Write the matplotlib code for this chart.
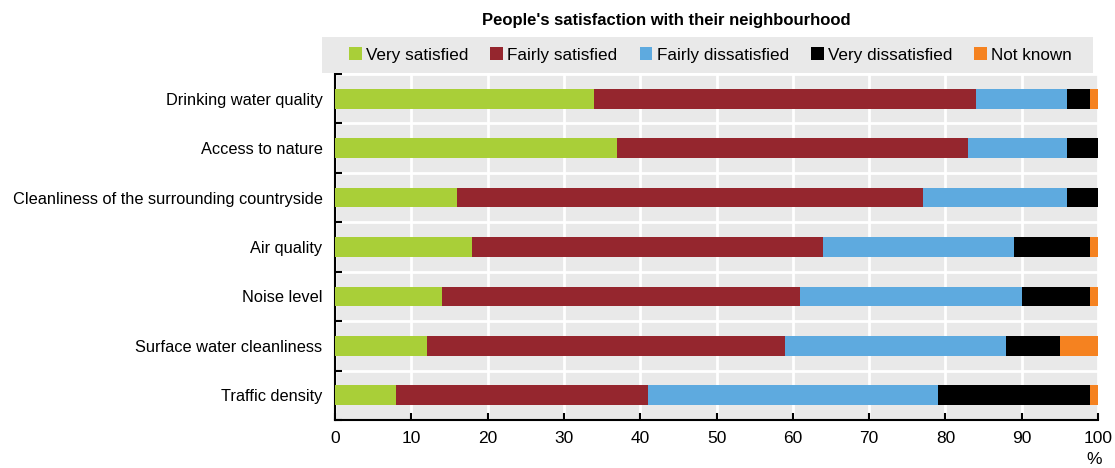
import numpy as np
from matplotlib import pyplot as plt
from matplotlib.patches import Patch, Rectangle

plt.rcParams['font.family'] = ['Liberation Sans', 'DejaVu Sans']

categories = ['Drinking water quality', 'Access to nature',
              'Cleanliness of the surrounding countryside', 'Air quality',
              'Noise level', 'Surface water cleanliness', 'Traffic density']
series = ['Very satisfied', 'Fairly satisfied', 'Fairly dissatisfied',
          'Very dissatisfied', 'Not known']
very_satisfied = [34, 37, 16, 18, 14, 12, 8]
fairly_satisfied = [50, 46, 61, 46, 47, 47, 33]
fairly_dissatisfied = [12, 13, 19, 25, 29, 29, 38]
very_dissatisfied = [3, 4, 4, 10, 9, 7, 20]
not_known = [1, 0, 0, 1, 1, 5, 1]
colors = ['#a9cf38', '#95262e', '#5eaadf', '#000000', '#f58220']

values = [very_satisfied, fairly_satisfied, fairly_dissatisfied,
          very_dissatisfied, not_known]

W, H = 1115, 468
fig = plt.figure(figsize=(W / 100, H / 100), dpi=100)
ax = fig.add_axes([335 / W, 1 - 420 / H, (1098 - 335) / W, (420 - 74) / H])
ax.set_facecolor('#e9e9e9')

y = np.arange(len(categories))
left = np.zeros(len(categories))
for name, vals, c in zip(series, values, colors):
    vals = np.array(vals, dtype=float)
    ax.barh(y, vals, left=left, height=0.4, color=c, label=name, zorder=3)
    left += vals

ax.set_xlim(0, 100)
ax.set_ylim(len(categories) - 0.5, -0.5)
ax.set_xticks(np.arange(0, 101, 10))
ax.set_yticks(y)
ax.set_yticklabels(categories)
ax.set_yticks(np.arange(-0.5, len(categories), 1), minor=True)
ax.tick_params(axis='y', which='major', length=0, pad=9, labelsize=11.8)
ax.tick_params(axis='y', which='minor', direction='in', length=5, width=1.5)
ax.tick_params(axis='x', direction='in', length=5, width=1.5, pad=8, labelsize=12.5)
ax.grid(axis='x', color='white', linewidth=2, zorder=1)
ax.grid(axis='y', which='minor', color='white', linewidth=2, zorder=1)
ax.set_axisbelow(True)
for s in ['top', 'right']:
    ax.spines[s].set_visible(False)
for s in ['left', 'bottom']:
    ax.spines[s].set_linewidth(1.5)

fig.text(1094 / W, 1 - 460 / H, '%', ha='center', va='center', fontsize=12.5)

# legend box
fig.patches.append(Rectangle((322 / W, 1 - 73 / H), (1093 - 322) / W, 36 / H,
                             transform=fig.transFigure, facecolor='#e9e9e9',
                             edgecolor='none', zorder=0))
handles = [Patch(facecolor=c, edgecolor='none') for c in colors]
fig.legend(handles, series, loc='center', ncol=5, mode='expand',
           bbox_to_anchor=(349 / W, 1 - 65 / H, (1072 - 349) / W, 20 / H),
           frameon=False, borderpad=0, borderaxespad=0,
           handlelength=0.75, handleheight=0.75, handletextpad=0.25,
           fontsize=12.3)

fig.text(666 / W, 1 - 21 / H, "People's satisfaction with their neighbourhood",
         ha='center', va='center', fontsize=12, fontweight='bold')

fig.savefig('out.png', dpi=100)
